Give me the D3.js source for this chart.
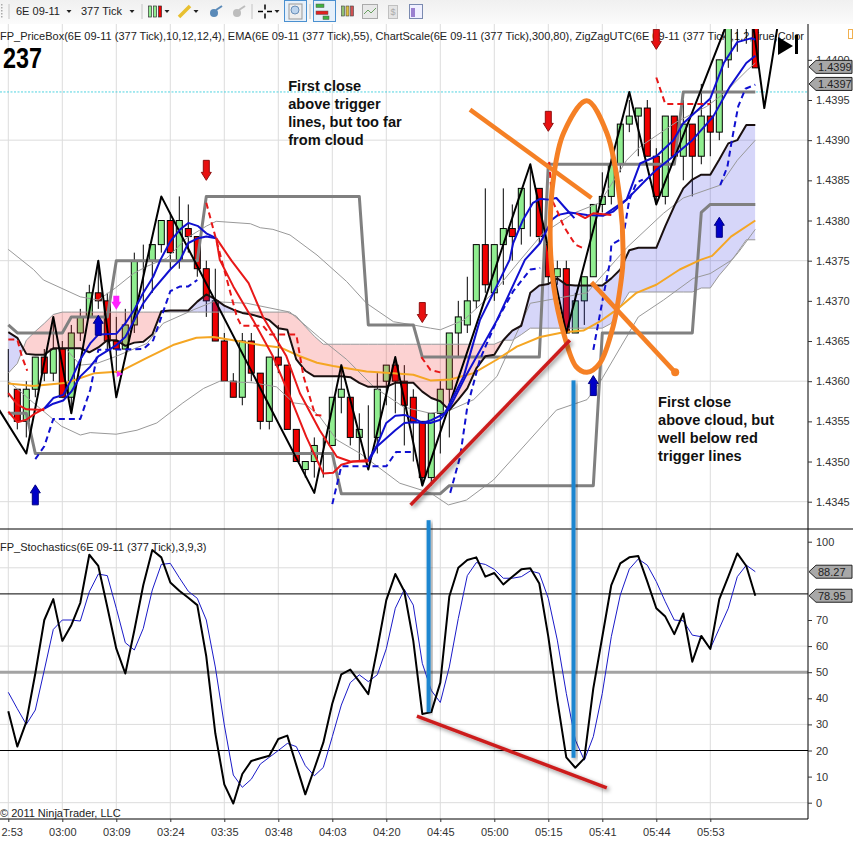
<!DOCTYPE html>
<html lang="en">
<head>
<meta charset="utf-8">
<title>6E 09-11 377 Tick</title>
<script src="https://d3js.org/d3.v7.min.js"></script>
<style>
  body { margin: 0; background: #fff; overflow: hidden; }
  text { font-family: "Liberation Sans", Arial, sans-serif; }
  .tick text { font-size: 11px; fill: #333; font-family: "Liberation Sans", Arial, sans-serif; }
  .tick line { stroke: #333; }
</style>
</head>
<body>
<script>
// ---- axis labels
var timeLabels = ["2:53","03:00","03:09","03:24","03:35","03:48","04:03","04:20","04:45","05:00","05:15","05:41","05:44","05:53"];
var priceTicks = [1.4400,1.4395,1.4390,1.4385,1.4380,1.4375,1.4370,1.4365,1.4360,1.4355,1.4350,1.4345];
var priceGrid = [1.4390,1.4375,1.4360,1.4345];
var stochTicks = [100,70,60,50,40,30,20,10,0];
var stochGrid = [90,60,30,0];

// ---- candles, one per bar
var opens = [1.4359,1.4359,1.4355,1.4359,1.4363,1.4361,1.4364,1.4358,1.4366,1.4368,
  1.4371,1.4370,1.4365,1.4364,1.4367,1.4375,1.4375,1.4377,1.4380,1.4375,
  1.4379,1.4378,1.4374,1.4370,1.4365,1.4360,1.4358,1.4365,1.4361,1.4355,
  1.4363,1.4362,1.4354,1.4349,1.4350,1.4352,1.4352,1.4358,1.4358,1.4353,
  1.4354,1.4353,1.4360,1.4362,1.4360,1.4358,1.4355,1.4348,1.4356,1.4359,
  1.4366,1.4367,1.4370,1.4377,1.4371,1.4377,1.4379,1.4379,1.4384,1.4384,
  1.4377,1.4373,1.4374,1.4366,1.4370,1.4373,1.4382,1.4383,1.4387,1.4392,
  1.4393,1.4394,1.4388,1.4383,1.4393,1.4388,1.4392,1.4388,1.4393,1.4391,
  1.4400,1.4405,1.4408,1.4405];
var closes = [1.4359,1.4355,1.4359,1.4363,1.4361,1.4364,1.4358,1.4366,1.4368,1.4371,
  1.4370,1.4365,1.4364,1.4367,1.4375,1.4375,1.4377,1.4380,1.4376,1.4380,
  1.4378,1.4374,1.4370,1.4365,1.4360,1.4358,1.4365,1.4361,1.4355,1.4363,
  1.4362,1.4354,1.4350,1.4350,1.4352,1.4352,1.4358,1.4359,1.4353,1.4354,
  1.4354,1.4359,1.4362,1.4360,1.4357,1.4355,1.4348,1.4356,1.4359,1.4366,
  1.4368,1.4370,1.4377,1.4372,1.4377,1.4379,1.4378,1.4384,1.4384,1.4378,
  1.4373,1.4374,1.4366,1.4370,1.4373,1.4382,1.4383,1.4387,1.4392,1.4393,
  1.4394,1.4388,1.4383,1.4393,1.4388,1.4392,1.4388,1.4393,1.4391,1.4400,
  1.4405,1.4408,1.4409,1.4399];
var highs = [1.4364,1.4359,1.4360,1.4363,1.4364,1.4368,1.4365,1.4367,1.4369,1.4372,
  1.4375,1.4371,1.4368,1.4369,1.4376,1.4377,1.4377,1.4380,1.4381,1.4383,
  1.4382,1.4378,1.4375,1.4374,1.4366,1.4361,1.4366,1.4366,1.4361,1.4363,
  1.4367,1.4362,1.4354,1.4350,1.4353,1.4353,1.4358,1.4362,1.4358,1.4356,
  1.4357,1.4361,1.4362,1.4363,1.4362,1.4359,1.4355,1.4356,1.4360,1.4366,
  1.4370,1.4373,1.4377,1.4384,1.4377,1.4384,1.4382,1.4384,1.4387,1.4384,
  1.4378,1.4375,1.4375,1.4371,1.4373,1.4382,1.4386,1.4389,1.4392,1.4395,
  1.4394,1.4395,1.4389,1.4393,1.4393,1.4395,1.4392,1.4397,1.4395,1.4400,
  1.4406,1.4409,1.4410,1.4406];
var lows = [1.4358,1.4354,1.4353,1.4358,1.4360,1.4360,1.4358,1.4356,1.4365,1.4368,
  1.4369,1.4364,1.4361,1.4364,1.4366,1.4369,1.4371,1.4376,1.4374,1.4374,
  1.4376,1.4373,1.4368,1.4365,1.4360,1.4358,1.4357,1.4360,1.4354,1.4354,
  1.4361,1.4354,1.4350,1.4348,1.4348,1.4348,1.4352,1.4356,1.4352,1.4350,
  1.4350,1.4351,1.4357,1.4356,1.4352,1.4350,1.4347,1.4347,1.4351,1.4353,
  1.4363,1.4366,1.4369,1.4371,1.4370,1.4372,1.4375,1.4377,1.4378,1.4377,
  1.4372,1.4372,1.4366,1.4366,1.4367,1.4373,1.4381,1.4382,1.4386,1.4391,
  1.4388,1.4388,1.4382,1.4382,1.4388,1.4385,1.4383,1.4387,1.4388,1.4390,
  1.4399,1.4401,1.4402,1.4399];

// ---- cloud, one value per bar
var cloudFast = [1.43661,1.43654,1.43634,1.43633,1.43633,1.43641,1.43641,1.43641,1.43641,1.43636,
  1.43642,1.43651,1.43651,1.43644,1.43648,1.43649,1.43658,1.43687,1.43688,1.43688,
  1.43688,1.43699,1.43708,1.43702,1.43694,1.43689,1.43685,1.43683,1.43680,1.43676,
  1.43666,1.43664,1.43627,1.43613,1.43606,1.43606,1.43606,1.43606,1.43605,1.43598,
  1.43593,1.43593,1.43593,1.43598,1.43598,1.43598,1.43587,1.43579,1.43575,1.43564,
  1.43577,1.43591,1.43616,1.43631,1.43633,1.43651,1.43663,1.43669,1.43710,1.43719,
  1.43721,1.43728,1.43720,1.43719,1.43719,1.43719,1.43719,1.43728,1.43739,1.43763,
  1.43766,1.43766,1.43766,1.43793,1.43818,1.43840,1.43851,1.43857,1.43857,1.43876,
  1.43896,1.43900,1.43919,1.43919];
var cloudSlow = [1.43610,1.43622,1.43651,1.43662,1.43672,1.43683,1.43686,1.43686,1.43686,1.43686,
  1.43686,1.43686,1.43686,1.43686,1.43686,1.43686,1.43686,1.43686,1.43686,1.43686,
  1.43686,1.43686,1.43686,1.43686,1.43686,1.43686,1.43686,1.43686,1.43686,1.43686,
  1.43686,1.43686,1.43681,1.43668,1.43656,1.43646,1.43646,1.43646,1.43646,1.43646,
  1.43646,1.43646,1.43646,1.43646,1.43646,1.43646,1.43646,1.43646,1.43646,1.43646,
  1.43646,1.43646,1.43646,1.43646,1.43646,1.43651,1.43651,1.43658,1.43666,1.43666,
  1.43666,1.43666,1.43666,1.43666,1.43666,1.43666,1.43666,1.43672,1.43693,1.43711,
  1.43711,1.43711,1.43711,1.43711,1.43711,1.43711,1.43711,1.43716,1.43716,1.43732,
  1.43745,1.43760,1.43776,1.43776];

// ---- stochastics, one value per bar
var stochK = [35,21.5,31,49.5,70,78,62,68,76.6,95,90.7,75,59,49.5,66,83.4,96.8,94,84.4,81.2,
  78.5,75.7,56,26.6,7,-0.3,11,16,17,18,24.4,25.7,14.4,3.2,13,23,38,49.2,51,46.4,
  41.6,59,77.6,87.6,81,62,34,34.7,46,79,90,93,94,86.6,88,83.6,86.6,89.4,89.8,84,
  63.6,39.3,17.4,13.4,17,43.8,63.6,83.4,91.7,94,94.5,84.7,74.5,71.3,64.6,72.5,54,63.9,58.9,78,
  86.6,95.5,90.7,79.3];
var stochD = [42.3,36,30,35.5,50.8,66.4,70,70,69.6,80.8,87.6,87,74.5,61.3,58.5,66.8,81.5,91.3,91.7,86.2,
  81,78.3,70,52,29.8,10.6,5.9,9,14.8,17.4,20,22.7,21.5,14.2,10.3,13.5,25.3,37.4,46,49,
  46.4,49,59,74.5,81.7,75.7,53.4,43,38.4,52,70.6,87,92,91.3,89.4,86,86,86.6,88.8,87.9,
  78.3,62.3,41.9,24,16.3,25.3,41.9,63.6,79.6,89.5,93.4,91,84.7,77,70,69.7,64.2,63.6,59,66.8,
  74.5,86.6,91,88.5];

// ---- indicator vertices as [bar, price]
var zigzag = [[-3,1.4360],[2,1.4351],[5,1.4368],[7,1.4356],[10,1.4375],[12,1.4358],[17,1.4383],[34,1.43461],
  [37,1.4362],[40,1.4349],[43,1.4363],[46,1.4347],[58,1.4387],[62,1.4366],[69,1.4396],[72,1.4382],[82,1.44107],[84,1.4394],[86,1.44078]];
var boxUpper = [[0,1.4367],[1,1.4366],[6,1.4366],[7,1.4368],[11,1.4368],[12,1.4375],[21,1.4375],[22,1.4383],[39,1.4383],[40,1.4367],
  [45,1.4367],[46,1.4363],[59,1.4363],[60,1.4387],[74,1.4387],[75,1.4396],[83,1.4396]];
var boxLower = [[0,1.4356],[2,1.4356],[3,1.4351],[36,1.4351],[37,1.4346],[48,1.4346],[49,1.4347],[65,1.4347],[66,1.4366],[76,1.4366],
  [77,1.4381],[78,1.4382],[83,1.4382]];
var ema55 = [[0,1.43597],[2.8,1.43594],[6.5,1.43598],[9.6,1.4361],[12.4,1.43612],[15.4,1.43629],[18.3,1.43645],[20.9,1.43654],[22.8,1.43655],
  [25,1.43651],[28,1.43645],[30.2,1.43642],[32.4,1.43631],[34.3,1.43623],[36.1,1.43619],[39.8,1.43612],[42.8,1.4361],[45,1.43608],[46.9,1.43601],
  [49.1,1.43602],[51.7,1.4361],[54.3,1.43627],[56.5,1.43643],[59.1,1.43655],[61.7,1.43661],[63.9,1.43663],[65.7,1.43674],[67.6,1.43689],
  [69.8,1.4371],[72,1.4372],[74.6,1.43739],[76.9,1.43751],[78.2,1.43756],[80.3,1.4378],[83,1.438]];
var bandUpper = [[0,1.43764],[2.8,1.43739],[3.9,1.43726],[8,1.43705],[10,1.43701],[11.9,1.43716],[13.9,1.43734],[15.4,1.43743],[17.6,1.43753],
  [19.8,1.43778],[22,1.43793],[23.1,1.43799],[26.9,1.43796],[28,1.43791],[29.4,1.43789],[31.3,1.43782],[34.3,1.43757],[37.6,1.43724],
  [39.8,1.43697],[42.8,1.43674],[45,1.4367],[46.9,1.43666],[48,1.43664],[50.6,1.43676],[53.9,1.4371],[56.9,1.43751],[59.4,1.43784],
  [62.8,1.43809],[65.7,1.43822],[68.7,1.43875],[70.2,1.43892],[74.3,1.43923],[77.6,1.43942],[79.5,1.43958],[82.1,1.43987],[83,1.43996]];
var bandMiddle = [[6.5,1.43639],[8,1.4362],[9.8,1.43622],[12,1.43631],[15.4,1.43647],[17.2,1.43672],[20.6,1.43689],[22.8,1.43699],[26.5,1.43697],
  [31.3,1.43686],[34.6,1.43654],[37.6,1.43627],[40.6,1.43593],[43.9,1.43568],[46.9,1.4356],[49.1,1.43564],[51.7,1.43577],[54.3,1.43606],
  [58,1.43697],[64.3,1.4371],[68.7,1.43766],[72.8,1.43809],[75,1.43828],[79.1,1.43844],[81,1.43875],[83,1.439]];
var bandLower = [[0,1.436],[2.8,1.43573],[5.9,1.43544],[8,1.43533],[9.1,1.43536],[12,1.43534],[14.3,1.43539],[16.5,1.43548],[19.4,1.43573],
  [21.7,1.43591],[23.5,1.436],[27.2,1.43598],[29.8,1.43593],[31.7,1.43573],[33.1,1.43571],[34.6,1.43556],[36.5,1.43527],[39.1,1.4351],
  [43.5,1.43473],[46.9,1.43461],[48.9,1.43446],[50.9,1.43452],[53.9,1.43477],[60.9,1.43564],[64.3,1.43577],[65.7,1.43598],[70,1.4368],
  [72.8,1.43701],[76.1,1.43728],[78,1.43734],[80.4,1.43751],[81.1,1.4376],[83,1.43789]];

var blueSolid = [
  [[4,1.43566],[5,1.43579],[6.1,1.43583],[7,1.43602],[8,1.43627],[9.1,1.43647],[10,1.43658],[12,1.43659],[13,1.43672],[14,1.43689],[15,1.4371],[16.1,1.4373],[16.9,1.43751],[18,1.43774],[19.1,1.43789],[20,1.43797],[21.1,1.43793],[22,1.43784],[23.1,1.43778]],
  [[4,1.43566],[5,1.43572],[6.1,1.43576],[7,1.43587],[8,1.43606],[9.1,1.43618],[10,1.43631],[10.9,1.43637],[12,1.43645],[13,1.43655],[14,1.43676],[15,1.43697],[16.1,1.43714],[18,1.43739],[19.1,1.43751],[20,1.43772],[21.1,1.43778],[22,1.4378],[23.1,1.43778]],
  [[40,1.43502],[41,1.43521],[42,1.43548],[43,1.43557],[44,1.43558],[45,1.43554],[46,1.43548],[46.9,1.43551],[48.5,1.4356],[50.6,1.43606],[52.4,1.43676],[53.9,1.4371],[55.7,1.43751],[56.1,1.43772],[57.2,1.43801],[58.3,1.43822],[59.1,1.43827],[60,1.43826],[60.9,1.43828],[62,1.43814],[62.9,1.43803]],
  [[40,1.435],[41,1.43519],[42,1.43529],[43,1.43539],[44,1.43548],[45,1.43549],[46.9,1.43548],[48,1.43552],[49.1,1.43568],[51,1.4361],[54.3,1.43676],[57.4,1.43751],[59.1,1.43772],[60.4,1.43801],[61.1,1.43807],[62.4,1.4381],[64.3,1.43807],[66.1,1.43806],[67.2,1.43811],[68.7,1.43826],[70.2,1.43871],[72,1.4388],[73.9,1.439],[75,1.43921],[78,1.43952],[79.5,1.43996],[81,1.44022],[82.6,1.44027],[83,1.44025]],
  [[66.1,1.43806],[68.7,1.43826],[70.9,1.43851],[72,1.43863],[73.9,1.4388],[76,1.439],[78.3,1.43929],[80.2,1.43967],[82,1.43996],[83,1.44005]]
];
var blueDashed = [
  [[3,1.43503],[4,1.43519],[5,1.43553],[8,1.43553],[9.1,1.43589],[10,1.43639],[15,1.4364],[16.1,1.43651],[17.1,1.43683],[18,1.43712],[19.1,1.43718],[20,1.43718],[21,1.43726]],
  [[36,1.43447],[37,1.43494],[42,1.43494],[43.1,1.43512],[45,1.43512]],
  [[49.1,1.43461],[50.2,1.43506],[51,1.43568],[52.4,1.43627],[54.3,1.43676],[56.1,1.43712],[58,1.43739],[59.1,1.43741]],
  [[65,1.43639],[66.1,1.43705],[66.9,1.43751],[67,1.4377],[68.3,1.43778],[69,1.43826],[69.8,1.43847],[70.5,1.43851]],
  [[79.1,1.43844],[79.9,1.43867],[80.4,1.439],[81.1,1.43942],[81.9,1.43964],[83,1.43969]]
];
var redSolid = [
  [[0,1.43562],[1,1.43549],[2,1.43552],[3,1.4356],[4,1.43566]],
  [[0,1.43585],[1,1.43571],[2,1.43565],[4,1.43564]],
  [[23.1,1.43778],[24.8,1.4375],[26.7,1.43722],[28.3,1.4368],[30.9,1.43631],[32.4,1.43585],[34.6,1.43539],[36.5,1.43506],[38,1.435],[40,1.435]],
  [[23.1,1.43778],[23.5,1.43751],[25,1.43718],[27.2,1.43676],[29.4,1.43631],[31.3,1.43581],[33.1,1.43531],[35,1.43485],[36.1,1.43486],[37,1.43496],[38.3,1.435],[40,1.43502]],
  [[63.1,1.43809],[64.1,1.43803],[65,1.43809],[67,1.43807]]
];
var redDashed = [
  [[0,1.43652],[1,1.43652],[1.5,1.43631],[2.1,1.43613]],
  [[22,1.43822],[23.1,1.43776],[23.7,1.43751],[25.4,1.4368],[25.9,1.43669],[28.3,1.43669],[29.1,1.43658],[32,1.43658],[32.8,1.43606],[34.1,1.43558],[35,1.43557]],
  [[45.9,1.4363],[46.9,1.43614],[48,1.43611]],
  [[60.1,1.43873],[60.4,1.43826],[61.1,1.43809],[61.7,1.43793],[63,1.4377],[64,1.43765]],
  [[72,1.43978],[73,1.43945],[78,1.43945]]
];

// signal arrows as [bar, price at the tip]
var redArrows = [[22,1.4385],[46,1.43673],[60,1.43911],[72,1.44013]];
var blueArrows = [[3,1.43471],[79,1.43804],[65,1.43607],[10,1.43682]];
var magentaArrows = [[12,1.43689]];
var magentaDots = [[12.4,1.43609]];

// hand drawn notes on the chart, in bar/price terms
var orangeLoop = [[64.26,1.43949],[61.7,1.43909],[60.6,1.43855],[60.2,1.43784],[60.6,1.43718],[61.7,1.4366],[63.1,1.43618],[64.3,1.43611],
  [65.7,1.43622],[67.2,1.43668],[68.1,1.43726],[68.3,1.43751],[67.96,1.43826],[66.5,1.43909]];
var orangeStrokes = [[[51.3,1.43938],[64.8,1.43828]],[[64.8,1.43723],[74.1,1.43611]]];
var redTrend = [[44.7,1.43446],[62.4,1.43651]];
var stochTrend = [[45.4,33.2],[66.5,5.7]];
var blueBars = [{bar:46.7,price:1.43427,stoch:34.7},{bar:62.8,price:1.43601,stoch:17.2}];
var noteOne = ["First close","above trigger","lines, but too far","from cloud"];
var noteTwo = ["First close","above cloud, but","well below red","trigger lines"];
var nowPrice = 1.4396;

var titleTop = "FP_PriceBox(6E 09-11 (377 Tick),10,12,12,4), EMA(6E 09-11 (377 Tick),55), ChartScale(6E 09-11 (377 Tick),300,80), ZigZagUTC(6E 09-11 (377 Tick),1,2,True,Color";
var titleBottom = "FP_Stochastics(6E 09-11 (377 Tick),3,9,3)";

// ---- scales
var chartW = 853, chartH = 845, plotRight = 808, panelTop = 24, panelSplit = 529, panelBottom = 819;

var x = d3.scaleLinear().domain([0, 78]).range([8.3, 710.3]);
var y = d3.scaleLinear().domain([1.4395, 1.4345]).range([100, 501.7]);
var yS = d3.scaleLinear().domain([0, 100]).range([802.7, 541.7]);
var barW = 6;

var svg = d3.select("body").append("svg").attr("width", chartW).attr("height", chartH)
  .style("display", "block");

var defs = svg.append("defs");
defs.append("clipPath").attr("id", "clipTop").append("rect")
  .attr("x", 0).attr("y", 29).attr("width", plotRight).attr("height", panelSplit - 29);
defs.append("clipPath").attr("id", "clipAbove").append("path")
  .attr("d", d3.area().x(function(d, i) { return x(i); }).y0(0).y1(function(d) { return y(d); })(cloudSlow));
defs.append("clipPath").attr("id", "clipBelow").append("path")
  .attr("d", d3.area().x(function(d, i) { return x(i); }).y0(chartH).y1(function(d) { return y(d); })(cloudSlow));
var shadow = defs.append("filter").attr("id", "shadow").attr("x", "-50%").attr("y", "-50%").attr("width", "200%").attr("height", "200%");
shadow.append("feDropShadow").attr("dx", 2).attr("dy", 2).attr("stdDeviation", 2).attr("flood-color", "#000").attr("flood-opacity", 0.45);

var grad = defs.append("linearGradient").attr("id", "toolbarBg").attr("x1", 0).attr("x2", 0).attr("y1", 0).attr("y2", 1);
grad.append("stop").attr("offset", 0).attr("stop-color", "#f0f0f0");
grad.append("stop").attr("offset", 1).attr("stop-color", "#fbfbfb");

// ---- grid
var tickBars = timeLabels.map(function(d, i) { return i * 6; });
svg.append("g").selectAll("line").data(tickBars).enter().append("line")
  .attr("x1", function(d) { return x(d); }).attr("x2", function(d) { return x(d); })
  .attr("y1", panelTop).attr("y2", panelBottom).attr("stroke", "#dcdcdc");
svg.append("g").selectAll("line").data(priceGrid).enter().append("line")
  .attr("x1", 0).attr("x2", plotRight).attr("y1", function(d) { return y(d); }).attr("y2", function(d) { return y(d); })
  .attr("stroke", "#dcdcdc");
svg.append("g").selectAll("line").data(stochGrid).enter().append("line")
  .attr("x1", 0).attr("x2", plotRight).attr("y1", function(d) { return yS(d); }).attr("y2", function(d) { return yS(d); })
  .attr("stroke", "#dcdcdc");

// titles sit under the plotted marks
svg.append("text").attr("x", 0).attr("y", 40).attr("font-size", 11).attr("fill", "#222").text(titleTop);
svg.append("text").attr("x", 0).attr("y", 551).attr("font-size", 11).attr("fill", "#222").text(titleBottom);
svg.append("text").attr("x", 0).attr("y", 817).attr("font-size", 11).attr("fill", "#222").text("\u00a9 2011 NinjaTrader, LLC");
svg.append("text").attr("x", 3).attr("y", 68).attr("font-size", 30).attr("font-weight", "bold").attr("fill", "#000")
  .attr("textLength", 39).attr("lengthAdjust", "spacingAndGlyphs").text("237");

var lineP = d3.line().x(function(d) { return x(d[0]); }).y(function(d) { return y(d[1]); });
function drawLines(g, sets, color, w, dash) {
  g.append("g").selectAll("path").data(sets).enter().append("path")
    .attr("d", lineP).attr("fill", "none").attr("stroke", color).attr("stroke-width", w)
    .attr("stroke-dasharray", dash || null).attr("stroke-linejoin", "round");
}

// ---- top panel
var pricePanel = svg.append("g").attr("clip-path", "url(#clipTop)");

pricePanel.append("line").attr("x1", 0).attr("x2", plotRight).attr("y1", y(nowPrice)).attr("y2", y(nowPrice))
  .attr("stroke", "#4fd3e0").attr("stroke-dasharray", "2,1.5");

// candles
var candles = pricePanel.append("g").selectAll("g").data(opens).enter().append("g");
candles.append("line")
  .attr("x1", function(d, i) { return x(i); }).attr("x2", function(d, i) { return x(i); })
  .attr("y1", function(d, i) { return y(highs[i]); }).attr("y2", function(d, i) { return y(lows[i]); })
  .attr("stroke", "#000");
candles.append("rect")
  .attr("x", function(d, i) { return x(i) - barW / 2; }).attr("width", barW)
  .attr("y", function(d, i) { return y(Math.max(opens[i], closes[i])); })
  .attr("height", function(d, i) { return Math.abs(y(opens[i]) - y(closes[i])); })
  .attr("fill", function(d, i) { return closes[i] >= opens[i] ? "#90ee90" : "#f00000"; })
  .attr("stroke", "#000").attr("stroke-width", 1);

// cloud goes over the candles, they show through it
var cloudArea = d3.area().x(function(d, i) { return x(i); })
  .y0(function(d, i) { return y(cloudSlow[i]); })
  .y1(function(d) { return y(d); });
pricePanel.append("path").attr("d", cloudArea(cloudFast)).attr("fill", "#3030e0").attr("fill-opacity", 0.2).attr("clip-path", "url(#clipAbove)");
pricePanel.append("path").attr("d", cloudArea(cloudFast)).attr("fill", "#f02020").attr("fill-opacity", 0.2).attr("clip-path", "url(#clipBelow)");

drawLines(pricePanel, [bandUpper, bandMiddle, bandLower], "#999", 1);
drawLines(pricePanel, [cloudSlow.map(function(d, i) { return [i, d]; })], "#999", 1);
drawLines(pricePanel, [boxUpper, boxLower], "#808080", 3);
drawLines(pricePanel, [ema55], "#f5a623", 2);
drawLines(pricePanel, [cloudFast.map(function(d, i) { return [i, d]; })], "#1a1010", 2);
drawLines(pricePanel, [zigzag], "#000", 2);
drawLines(pricePanel, blueSolid, "#1010d0", 2);
drawLines(pricePanel, redSolid, "#e81818", 2);
drawLines(pricePanel, blueDashed, "#1010d0", 2, "6,4");
drawLines(pricePanel, redDashed, "#e81818", 2, "6,4");

// arrows, sign +1 points down, -1 points up
function arrowPath(sign, len) {
  var h = 8 * sign;
  return "M0,0 L-5," + (-h) + " L-3," + (-h) + " L-3," + (-len * sign) + " L3," + (-len * sign) + " L3," + (-h) + " L5," + (-h) + " Z";
}
function drawArrows(data, sign, len, fill, stroke) {
  pricePanel.append("g").selectAll("path").data(data).enter().append("path")
    .attr("transform", function(d) { return "translate(" + x(d[0]) + "," + y(d[1]) + ")"; })
    .attr("d", arrowPath(sign, len)).attr("fill", fill).attr("stroke", stroke);
}
drawArrows(redArrows, 1, 20, "#e81010", "#901010");
drawArrows(blueArrows, -1, 20, "#0000c8", "#000080");
drawArrows(magentaArrows, 1, 14, "#ff20ff", "none");
pricePanel.append("g").selectAll("path").data(magentaDots).enter().append("path")
  .attr("transform", function(d) { return "translate(" + x(d[0]) + "," + y(d[1]) + ")"; })
  .attr("d", "M-3,-3 L3,0 L-3,3 Z").attr("fill", "#ff20ff");

// ---- bottom panel
svg.append("line").attr("x1", 0).attr("x2", plotRight).attr("y1", yS(50)).attr("y2", yS(50)).attr("stroke", "#a3a3a3").attr("stroke-width", 3);
svg.append("g").selectAll("line").data([80, 20]).enter().append("line")
  .attr("x1", 0).attr("x2", plotRight).attr("y1", function(d) { return yS(d); }).attr("y2", function(d) { return yS(d); })
  .attr("stroke", "#000");
var lineS = d3.line().x(function(d, i) { return x(i); }).y(function(d) { return yS(d); });
svg.append("path").attr("d", lineS(stochD)).attr("fill", "none").attr("stroke", "#1a1ac8").attr("stroke-width", 1);
svg.append("path").attr("d", lineS(stochK)).attr("fill", "none").attr("stroke", "#000").attr("stroke-width", 2).attr("stroke-linejoin", "round");

// ---- frame and axes
svg.append("line").attr("x1", plotRight).attr("x2", plotRight).attr("y1", panelTop).attr("y2", panelBottom).attr("stroke", "#000");
svg.append("line").attr("x1", 0).attr("x2", chartW).attr("y1", panelSplit).attr("y2", panelSplit).attr("stroke", "#000");
svg.append("line").attr("x1", 0).attr("x2", plotRight).attr("y1", panelBottom).attr("y2", panelBottom).attr("stroke", "#000");

var priceAxis = d3.axisRight(y).tickValues(priceTicks).tickFormat(d3.format(".4f")).tickSize(4).tickPadding(4);
svg.append("g").attr("transform", "translate(" + plotRight + ",0)").call(priceAxis).call(function(g) { g.select(".domain").remove(); });
var stochAxis = d3.axisRight(yS).tickValues(stochTicks).tickFormat(d3.format("d")).tickSize(4).tickPadding(4);
svg.append("g").attr("transform", "translate(" + plotRight + ",0)").call(stochAxis).call(function(g) { g.select(".domain").remove(); });
var timeAxis = d3.axisBottom(x).tickValues(tickBars).tickFormat(function(d) { return timeLabels[d / 6]; }).tickSize(3).tickPadding(6);
var timeG = svg.append("g").attr("transform", "translate(0," + panelBottom + ")").call(timeAxis).call(function(g) { g.select(".domain").remove(); });
// first label hugs the window edge
timeG.select(".tick text").attr("text-anchor", "start").attr("x", 1 - x(0));

// value flags on the right axis
function flag(py, label) {
  var g = svg.append("g").attr("transform", "translate(809," + py + ")");
  g.append("path").attr("d", "M0,0 L7,-6.5 L43,-6.5 L43,6.5 L7,6.5 Z").attr("fill", "#a8a8a8").attr("stroke", "#222");
  g.append("text").attr("x", 9).attr("y", 4).attr("font-size", 11).attr("fill", "#222").text(label);
}
flag(y(closes[83]) - 1, d3.format(".4f")(closes[83]));
flag(y(1.4397), "1.4397");
flag(yS(stochD[83]), "88.27");
flag(yS(stochK[83]), "78.95");

// ---- notes
function note(lines, atBar, price) {
  svg.append("g").selectAll("text").data(lines).enter().append("text")
    .attr("x", x(atBar)).attr("y", function(d, i) { return y(price) + i * 18; })
    .attr("font-size", 14.6).attr("font-weight", "bold").attr("fill", "#111").text(function(d) { return d; });
}
note(noteOne, 31.1, 1.43961);
note(noteTwo, 72.2, 1.43568);

svg.append("path").attr("d", d3.line().curve(d3.curveCatmullRomClosed).x(function(d) { return x(d[0]); }).y(function(d) { return y(d[1]); })(orangeLoop))
  .attr("fill", "none").attr("stroke", "#f58025").attr("stroke-width", 5);
drawLines(svg, orangeStrokes, "#f58025", 4.5);
svg.append("circle").attr("cx", x(orangeStrokes[1][1][0])).attr("cy", y(orangeStrokes[1][1][1])).attr("r", 4).attr("fill", "#f58025");

svg.append("path").attr("d", lineP(redTrend)).attr("stroke", "#cc1f1f").attr("stroke-width", 3.5).attr("fill", "none").attr("filter", "url(#shadow)");
svg.append("path").attr("d", d3.line().x(function(d) { return x(d[0]); }).y(function(d) { return yS(d[1]); })(stochTrend))
  .attr("stroke", "#cc1f1f").attr("stroke-width", 3.5).attr("fill", "none").attr("filter", "url(#shadow)");
svg.append("g").selectAll("rect").data(blueBars).enter().append("rect")
  .attr("x", function(d) { return x(d.bar) - 2; }).attr("width", 4)
  .attr("y", function(d) { return y(d.price); }).attr("height", function(d) { return yS(d.stoch) - y(d.price); })
  .attr("fill", "#1f86d0").attr("filter", "url(#shadow)");

// ---- play-to-end button at the top right
svg.append("path").attr("d", "M778,37 L793,46 L778,55 Z").attr("fill", "#000");
svg.append("rect").attr("x", 795).attr("y", 35).attr("width", 3).attr("height", 19).attr("fill", "#000");
svg.append("rect").attr("x", 848.5).attr("y", 29.5).attr("width", 4).attr("height", 9).attr("fill", "#fff").attr("stroke", "#f0b050");

// ---- toolbar
var bar = svg.append("g");
bar.append("rect").attr("width", chartW).attr("height", panelTop).attr("fill", "url(#toolbarBg)");
bar.append("g").selectAll("rect").data([4, 7, 10, 13, 16]).enter().append("rect").attr("x", 1).attr("y", function(d) { return d; }).attr("width", 1.5).attr("height", 1.5).attr("fill", "#aaa");
bar.append("g").selectAll("line").data([9, 142, 252, 310]).enter().append("line")
  .attr("x1", function(d) { return d; }).attr("x2", function(d) { return d; }).attr("y1", 4).attr("y2", 19).attr("stroke", "#c4c4c4");
bar.append("text").attr("x", 16).attr("y", 15).attr("font-size", 11).attr("fill", "#222").text("6E 09-11");
bar.append("text").attr("x", 81).attr("y", 15).attr("font-size", 11).attr("fill", "#222").text("377 Tick");
bar.append("g").selectAll("path").data([69, 132, 167, 196, 277]).enter().append("path")
  .attr("d", function(d) { return "M" + (d - 2.5) + ",10 h5 l-2.5,3 Z"; }).attr("fill", "#222");
// candle icon
bar.append("g").selectAll("rect").data([[150, "#90ee90"], [155, "#90ee90"], [160, "#f00000"]]).enter().append("rect")
  .attr("x", function(d) { return d[0] - 1.5; }).attr("y", 6).attr("width", 3).attr("height", 11)
  .attr("fill", function(d) { return d[1]; }).attr("stroke", "#333").attr("stroke-width", 0.7);
// pencil
bar.append("line").attr("x1", 179).attr("y1", 17).attr("x2", 190).attr("y2", 6).attr("stroke", "#e8c030").attr("stroke-width", 3.5);
// pins
bar.append("g").selectAll("circle").data([[214, "#5a8ab8"], [237, "#bdbdbd"]]).enter().append("circle")
  .attr("cx", function(d) { return d[0]; }).attr("cy", 13).attr("r", 4).attr("fill", function(d) { return d[1]; });
bar.append("g").selectAll("line").data([[214, "#5a8ab8"], [237, "#bdbdbd"]]).enter().append("line")
  .attr("x1", function(d) { return d[0] + 2; }).attr("y1", 10).attr("x2", function(d) { return d[0] + 8; }).attr("y2", 6)
  .attr("stroke", function(d) { return d[1]; }).attr("stroke-width", 2);
// crosshair
bar.append("path").attr("d", "M258,11.5 h5 M267,11.5 h5 M265,4.5 v5 M265,13.5 v5").attr("stroke", "#000").attr("stroke-width", 1.5);
// selected buttons
bar.append("g").selectAll("rect").data([284.5, 313.5]).enter().append("rect")
  .attr("x", function(d) { return d; }).attr("y", 0.5).attr("width", 22).attr("height", 21)
  .attr("fill", "#e6f0fa").attr("stroke", "#4a90d0");
bar.append("rect").attr("x", 289).attr("y", 4).attr("width", 13).attr("height", 15).attr("fill", "#eee").attr("stroke", "#999");
bar.append("circle").attr("cx", 295).attr("cy", 10).attr("r", 4).attr("fill", "#bcd4ee").attr("stroke", "#6a8fb8");
bar.append("g").selectAll("rect").data([[316, 4, 8, "#40b040"], [316, 11, 12, "#e02020"], [323, 16, 6, "#40b040"]]).enter().append("rect")
  .attr("x", function(d) { return d[0]; }).attr("y", function(d) { return d[1]; }).attr("width", function(d) { return d[2]; }).attr("height", 3.5)
  .attr("fill", function(d) { return d[3]; }).attr("stroke", "#555").attr("stroke-width", 0.5);
bar.append("g").selectAll("rect").data([[343, "#90c070"], [347.5, "#e0c040"], [352, "#d05050"]]).enter().append("rect")
  .attr("x", function(d) { return d[0] - 1.5; }).attr("y", 6).attr("width", 3).attr("height", 10)
  .attr("fill", function(d) { return d[1]; }).attr("stroke", "#444").attr("stroke-width", 0.6);
bar.append("rect").attr("x", 362.5).attr("y", 4.5).attr("width", 15).attr("height", 14).attr("fill", "#e8e8e8").attr("stroke", "#aaa");
bar.append("path").attr("d", "M364,14 l4,-4 l3,3 l5,-5").attr("fill", "none").attr("stroke", "#6aa060");
bar.append("rect").attr("x", 388.5).attr("y", 5.5).attr("width", 9).attr("height", 13).attr("fill", "#e4e4e4").attr("stroke", "#c0c0c0");
bar.append("text").attr("x", 390.5).attr("y", 15).attr("font-size", 9).attr("fill", "#aaa").text("$");
bar.append("rect").attr("x", 409.5).attr("y", 4.5).attr("width", 13).attr("height", 14).attr("fill", "#f0f0ff").attr("stroke", "#7a8ab0");
bar.append("rect").attr("x", 411).attr("y", 8).attr("width", 4).attr("height", 9).attr("fill", "#9a80d0");
</script>
</body>
</html>
